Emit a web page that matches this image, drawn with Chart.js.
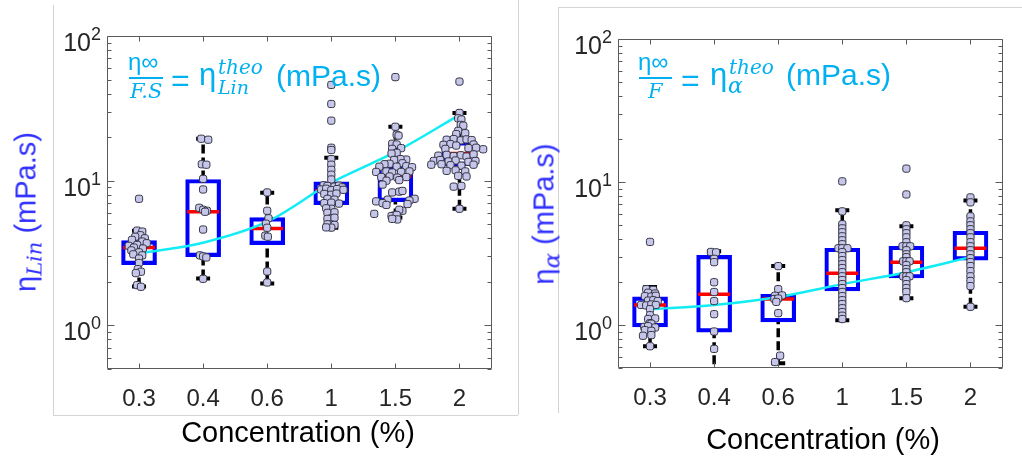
<!DOCTYPE html>
<html><head><meta charset="utf-8">
<script src="https://cdn.jsdelivr.net/npm/chart.js@4.4.1/dist/chart.umd.min.js"></script>
<style>
html,body{margin:0;padding:0;background:#fff;}
#wrap{position:relative;width:1022px;height:456px;overflow:hidden;background:#fff;}
canvas{position:absolute;top:0;}
.t{position:absolute;white-space:nowrap;line-height:1;font-family:'Liberation Sans',Arial,sans-serif;}
.m{font-family:'DejaVu Serif','Liberation Serif',serif;font-style:italic;}
.fr{position:absolute;background:#d4d4d4;}
.cy{color:#00b0f0;}
.bl{color:#3030ff;}
</style></head><body>
<div id="wrap">
 <div class="fr" style="left:53px;top:5px;width:1px;height:410px"></div>
 <div class="fr" style="left:53px;top:415px;width:465px;height:1px"></div>
 <div class="fr" style="left:518px;top:0px;width:1px;height:415px"></div>
 <div class="fr" style="left:558px;top:7px;width:1px;height:406px"></div>
 <div class="fr" style="left:558px;top:7px;width:464px;height:1px"></div>
 <canvas id="c1" width="511" height="456" style="left:0"></canvas>
 <canvas id="c2" width="511" height="456" style="left:511px"></canvas>

 <!-- left annotation -->
 <span class="t cy" style="left:128px;top:50px;font-size:24px">η∞</span>
 <div style="position:absolute;left:129px;top:77px;width:34px;height:2px;background:#00b0f0"></div>
 <span class="t m cy" style="left:130px;top:81px;font-size:21px">F.S</span>
 <span class="t cy" style="left:171px;top:64px;font-size:32px">=</span>
 <span class="t cy" style="left:199px;top:59px;font-size:31px">η</span>
 <span class="t m cy" style="left:218px;top:57px;font-size:20px">theo</span>
 <span class="t m cy" style="left:218px;top:78px;font-size:19px">Lin</span>
 <span class="t cy" style="left:276px;top:61px;font-size:30px">(mPa.s)</span>

 <!-- right annotation -->
 <span class="t cy" style="left:638px;top:50px;font-size:24px">η∞</span>
 <div style="position:absolute;left:639px;top:77px;width:33px;height:2px;background:#00b0f0"></div>
 <span class="t m cy" style="left:648px;top:81px;font-size:21px">F</span>
 <span class="t cy" style="left:681px;top:64px;font-size:32px">=</span>
 <span class="t cy" style="left:710px;top:59px;font-size:31px">η</span>
 <span class="t m cy" style="left:729px;top:57px;font-size:20px">theo</span>
 <span class="t m cy" style="left:728px;top:75px;font-size:22px">α</span>
 <span class="t cy" style="left:786px;top:60px;font-size:30px">(mPa.s)</span>

 <!-- y titles -->
 <div class="t bl" style="left:26px;top:212px;font-size:29px;transform:translate(-50%,-50%) rotate(-90deg)">η<span class="m" style="font-size:21px;position:relative;top:6px">Lin</span> (mPa.s)</div>
 <div class="t bl" style="left:544px;top:214px;font-size:29px;transform:translate(-50%,-50%) rotate(-90deg)">η<span class="m" style="font-size:23px;position:relative;top:6px">α</span> (mPa.s)</div>

 <!-- x titles -->
 <div class="t" style="left:298px;top:418px;font-size:29px;color:#000;transform:translateX(-50%)">Concentration (%)</div>
 <div class="t" style="left:823px;top:425px;font-size:29px;color:#000;transform:translateX(-50%)">Concentration (%)</div>
</div>
<script>
// ---------- data ----------
const categories = ['0.3', '0.4', '0.6', '1', '1.5', '2'];

// Left panel: eta_Lin (mPa.s)
const linQ1  = [2.63, 2.99, 3.62, 6.83, 7.17, 12.7];
const linMed = [3.45, 6.11, 4.67, 8.53, 10.8, 15.4];
const linQ3  = [3.86, 10.2, 5.56, 9.84, 12.7, 18.6];
const linLo  = [1.86, 2.11, 1.95, 4.74, 5.56, 6.41];
const linHi  = [4.52, 19.5, 8.26, 14.4, 23.6, 29.4];
const linTheo = [3.14, 3.73, 5.21, 9.69, 15.8, 28.5];
const linPts = [
  [7.5, 4.52, 4.45, 4.2, 4.1, 4.0, 3.9, 3.8, 3.7, 3.6, 3.55, 3.45, 3.4, 3.3, 3.2, 3.1, 3.05, 2.9, 2.7, 2.45, 2.35, 2.3, 1.9, 1.85],
  [19.5, 19.2, 13.0, 12.9, 10.3, 8.7, 6.5, 6.3, 6.2, 6.1, 4.6, 3.05, 3.0, 2.95, 2.1],
  [8.3, 6.2, 5.5, 5.05, 4.73, 4.17, 4.1, 2.36, 1.98],
  [45.9, 33.9, 26, 16.9, 16.3, 14.1, 12.9, 11.9, 11.0, 10.2, 9.3, 9.2, 9.1, 9.25, 9.0, 8.7, 8.8, 8.6, 8.75, 8.65, 8.1, 8.0, 8.15, 7.5, 7.4, 7.0, 7.05, 6.95, 6.4, 6.45, 6.0, 6.05, 5.5, 5.45, 5.55, 4.97, 5.0, 4.95, 4.74, 4.76],
  [52, 23.6, 20.8, 20.5, 18.0, 17.8, 16.8, 16.6, 15.6, 15.4, 14.0, 14.1, 13.9, 13.1, 13.2, 13.0, 12.5, 12.6, 12.4, 12.5, 11.5, 11.6, 11.4, 11.5, 11.6, 10.6, 10.7, 10.5, 10.6, 10.0, 10.1, 9.4, 8.3, 8.4, 8.5, 7.4, 7.2, 7.0, 7.5, 7.3, 6.8, 6.9, 6.2, 6.3, 5.75, 5.7, 5.8, 5.9, 5.4, 5.45],
  [48.4, 29.4, 27, 26.5, 24.3, 24.0, 22.1, 21.3, 21.0, 19.2, 19.4, 19.0, 19.3, 19.1, 17.7, 17.9, 17.5, 17.8, 16.6, 16.8, 16.5, 16.9, 14.9, 15.1, 14.8, 15.0, 14.7, 15.2, 13.7, 13.9, 13.6, 13.8, 13.5, 13.7, 12.9, 13.0, 12.8, 12.7, 12.9, 11.7, 11.8, 11.6, 10.8, 10.7, 9.1, 9.2, 6.4]
];
// horizontal spread of each point, in category widths
const linJit = [
  [0, -.03, .05, .02, -.06, .09, -.11, .05, .12, -.03, -.16, -.08, .06, -.12, 0, -.09, .05, 0, 0, -.02, .03, -.05, -.03, .03],
  [-.03, .08, -.02, .05, 0, 0, -.06, 0, .06, .03, 0, -.05, 0, .05, 0],
  [0, 0, .02, -.02, 0, -.03, .01, 0, 0],
  [0, 0, 0, 0, 0, 0, 0, 0, 0, 0, -.12, -.06, .05, .12, .17, -.16, -.08, 0, .09, .19, -.11, 0, .08, -.06, .05, -.11, 0, .12, 0, -.08, -.06, .05, 0, -.06, .05, 0, -.06, .05, 0, -.08],
  [0, 0, .02, .05, -.05, .02, .09, -.05, .02, -.06, .17, .08, -.02, -.09, .11, -.17, .02, .17, .26, -.25, -.3, -.14, -.05, .09, .22, -.22, -.09, .03, .17, -.14, .06, -.2, -.05, .06, .11, -.12, -.3, -.2, .3, .22, -.14, .19, .11, .06, -.02, -.06, .02, -.33, .03, -.05],
  [0, 0, -.02, .03, .02, .06, -.02, .09, -.05, -.2, -.09, .02, .11, .19, -.25, -.14, -.05, .22, -.22, .14, .37, .26, -.33, -.2, -.09, .02, .11, .22, -.4, -.3, -.17, -.06, .14, .25, -.44, -.28, -.14, .03, .22, -.2, -.06, .09, -.02, .11, -.09, .03, 0]
];

// Right panel: eta_alpha (mPa.s)
const alpQ1  = [0.97, 0.89, 1.05, 1.73, 2.13, 2.84];
const alpMed = [1.38, 1.64, 1.52, 2.30, 2.75, 3.44];
const alpQ3  = [1.57, 3.07, 1.64, 3.44, 3.55, 4.52];
const alpLo  = [0.71, 0.35, 0.54, 1.08, 1.54, 1.34];
const alpHi  = [1.84, 3.28, 2.58, 6.33, 4.9, 7.43];
const alpTheo = [1.29, 1.38, 1.57, 1.93, 2.34, 2.98];
const alpPts = [
  [3.81, 1.78, 1.76, 1.68, 1.66, 1.59, 1.58, 1.60, 1.48, 1.49, 1.47, 1.38, 1.37, 1.39, 1.38, 1.29, 1.17, 1.10, 1.11, 1.03, 1.02, 0.97, 0.96, 0.98, 0.92, 0.91, 0.84, 0.85, 0.71],
  [3.24, 3.22, 2.9, 2.75, 1.99, 1.70, 1.47, 1.19, 0.90, 0.68],
  [2.58, 1.78, 1.60, 1.61, 1.52, 1.53, 1.45, 1.21, 0.61, 0.55],
  [10.1, 6.23, 5.06, 4.74, 4.45, 4.17, 3.91, 3.67, 3.44, 3.44, 3.44, 3.23, 3.03, 2.84, 2.66, 2.50, 2.34, 2.19, 2.06, 1.93, 1.81, 1.70, 1.59, 1.49, 1.40, 1.31, 1.23, 1.16, 1.10],
  [12.4, 8.18, 4.98, 4.67, 4.38, 4.10, 3.79, 3.55, 3.55, 3.55, 3.33, 3.12, 2.98, 2.79, 2.79, 2.79, 2.62, 2.46, 2.34, 2.19, 2.19, 2.19, 2.06, 1.93, 1.81, 1.70, 1.54],
  [7.8, 7.2, 5.75, 5.3, 4.98, 4.67, 4.38, 4.10, 3.79, 3.55, 3.33, 3.12, 2.93, 2.75, 2.58, 2.38, 2.19, 2.03, 1.87, 1.34]
];
const alpJit = [
  [0, -.06, .05, -.03, .08, -.08, .02, .09, -.03, .05, .12, -.14, -.06, .02, .09, 0, 0, -.03, .08, 0, .02, -.09, .08, -.03, -.08, .02, -.11, .02, 0],
  [-.05, .03, 0, 0, 0, 0, 0, 0, 0, 0],
  [0, 0, -.05, .06, -.06, 0, -.03, 0, .03, -.05],
  [0, 0, 0, 0, 0, 0, 0, 0, -.06, 0, .08, 0, 0, 0, 0, 0, 0, 0, 0, 0, 0, 0, 0, 0, 0, 0, 0, 0, 0],
  [0, 0, 0, 0, 0, 0, 0, -.06, 0, .06, 0, 0, 0, -.05, 0, .05, 0, 0, 0, -.05, 0, .05, 0, 0, 0, 0, 0],
  [0, 0, 0, 0, 0, 0, 0, 0, 0, 0, 0, 0, 0, 0, 0, 0, 0, 0, 0, 0]
];
const yDecades = [0, 1, 2];

// ---------- drawing ----------
const axesDeco = {
  id: 'axesDeco',
  afterDraw(chart) {
    const {ctx, chartArea: a, scales: {x, y}} = chart;
    const L = Math.round(a.left) + 0.5, R = Math.round(a.right) - 0.5;
    const T = Math.round(a.top) + 0.5, B = Math.round(a.bottom) - 0.5;
    ctx.save();
    ctx.strokeStyle = '#5a5a5a';
    ctx.lineWidth = 1;
    ctx.beginPath();
    ctx.rect(L, T, R - L, B - T);
    for (let d = -1; d <= 2; d++) {
      for (let k = 1; k <= 9; k++) {
        const v = k * Math.pow(10, d);
        if (v < y.min - 1e-9 || v > y.max + 1e-9) continue;
        const py = Math.round(y.getPixelForValue(v)) + 0.5;
        const len = k === 1 ? 7 : 4;
        ctx.moveTo(L, py); ctx.lineTo(L + len, py);
        ctx.moveTo(R, py); ctx.lineTo(R - len, py);
      }
    }
    categories.forEach((c, i) => {
      const px = Math.round(x.getPixelForValue(i)) + 0.5;
      ctx.moveTo(px, B); ctx.lineTo(px, B - 5);
      ctx.moveTo(px, T); ctx.lineTo(px, T + 5);
    });
    ctx.stroke();
    ctx.fillStyle = '#262626';
    ctx.textBaseline = 'alphabetic';
    ctx.textAlign = 'right';
    yDecades.forEach(d => {
      const py = y.getPixelForValue(Math.pow(10, d));
      ctx.font = '18px "Liberation Sans", Arial, sans-serif';
      const sup = String(d);
      const sw = ctx.measureText(sup).width;
      ctx.fillText(sup, a.left - 6, py + 4);
      ctx.font = '25px "Liberation Sans", Arial, sans-serif';
      ctx.fillText('10', a.left - 6 - sw, py + 15);
    });
    ctx.restore();
  }
};

function makeChart(id, q1, med, q3, lo, hi, theo, pts, jit, pad) {
  const boxData = categories.map((c, i) => ({x: i, y: [q1[i], q3[i]]}));
  const medData = categories.map((c, i) => ({x: i, y: med[i]}));
  const whisk = [];
  const caps = [];
  categories.forEach((c, i) => {
    whisk.push({x: i, y: lo[i]}, {x: i, y: q1[i]}, {x: i, y: null},
               {x: i, y: q3[i]}, {x: i, y: hi[i]}, {x: i, y: null});
    caps.push({x: i, y: lo[i]}, {x: i, y: hi[i]});
  });
  const ptData = [];
  pts.forEach((arr, i) => arr.forEach((v, k) => ptData.push({x: i + jit[i][k], y: v})));
  const theoData = theo.map((v, i) => ({x: i, y: v}));

  return new Chart(document.getElementById(id), {
    type: 'bar',
    data: {
      datasets: [
        {type: 'scatter', data: ptData, order: 0, pointStyle: 'rectRounded', pointRadius: 4.2,
         pointBackgroundColor: '#c6c6ea', pointBorderColor: '#353545', pointBorderWidth: 1},
        {type: 'line', data: theoData, order: 1, borderColor: '#12ecf4', borderWidth: 2.5, pointRadius: 0,
         cubicInterpolationMode: 'monotone'},
        {type: 'scatter', data: caps, order: 2, pointStyle: 'line', pointRadius: 7,
         pointBorderColor: '#000', pointBorderWidth: 4, pointBackgroundColor: '#000'},
        {type: 'line', data: whisk, order: 3, borderColor: '#000', borderWidth: 3.5, borderDash: [9, 4],
         pointRadius: 0, spanGaps: false},
        {type: 'scatter', data: medData, order: 4, pointStyle: 'line', pointRadius: 16,
         pointBorderColor: '#ff0000', pointBorderWidth: 3.5},
        {type: 'bar', data: boxData, order: 5, backgroundColor: 'rgba(0,0,0,0)', borderColor: '#0000ff',
         borderWidth: 3.5, borderSkipped: false, barThickness: 35}
      ]
    },
    options: {
      responsive: false, animation: false, devicePixelRatio: 1, events: [],
      layout: {padding: {top: pad.top, right: pad.right, left: 0, bottom: 0}},
      plugins: {legend: {display: false}, tooltip: {enabled: false}},
      scales: {
        x: {
          type: 'linear', min: -0.5, max: 5.5, offset: false,
          grid: {display: false, drawTicks: false}, border: {display: false},
          afterBuildTicks: s => { s.ticks = categories.map((c, i) => ({value: i})); },
          ticks: {callback: v => categories[v], font: {family: 'Liberation Sans', size: 24},
                  color: '#262626', padding: 16, maxRotation: 0, autoSkip: false},
          afterFit: s => { s.height = pad.xh; }
        },
        y: {
          type: 'logarithmic', min: 0.5, max: 100,
          grid: {display: false, drawTicks: false}, border: {display: false},
          ticks: {display: false},
          afterFit: s => { s.width = 107; }
        }
      }
    },
    plugins: [axesDeco]
  });
}

makeChart('c1', linQ1, linMed, linQ3, linLo, linHi, linTheo, linPts, linJit, {top: 36, right: 18, xh: 87});
makeChart('c2', alpQ1, alpMed, alpQ3, alpLo, alpHi, alpTheo, alpPts, alpJit, {top: 39, right: 12, xh: 88});
</script>
</body></html>
